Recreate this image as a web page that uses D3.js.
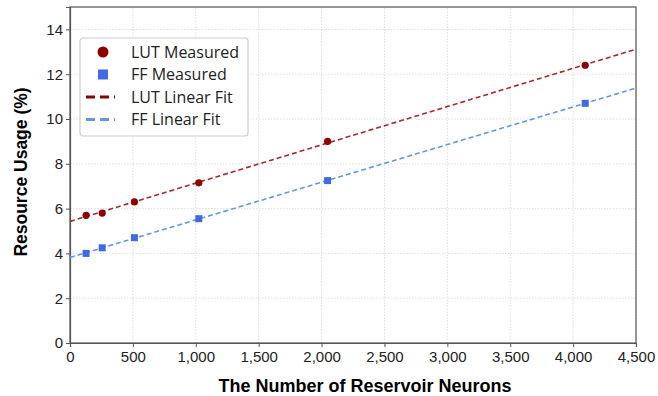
<!DOCTYPE html>
<html>
<head>
<meta charset="utf-8">
<script src="https://cdn.jsdelivr.net/npm/d3@7"></script>
<style>
body{margin:0;background:#fff;}
svg{display:block;}
.tick text{font-family:"Liberation Sans",Arial,sans-serif;font-size:15px;fill:#222;}
</style>
</head>
<body>
<script>
// reservoir sizes and measured usage (%)
var neurons = [128, 256, 512, 1024, 2048, 4096];
var lutUsage = [5.7, 5.8, 6.3, 7.15, 9.0, 12.4];
var ffUsage = [4.0, 4.25, 4.7, 5.55, 7.25, 10.7];
var xTicks = [0, 500, 1000, 1500, 2000, 2500, 3000, 3500, 4000, 4500];
var yTicks = [0, 2, 4, 6, 8, 10, 12, 14];
var legendLabels = ["LUT Measured", "FF Measured", "LUT Linear Fit", "FF Linear Fit"];

var W = 658, H = 396;
var m = {l:70, r:22, t:7, b:53};
var lutCol = "#8b0000", lutLine = "#a52a2a", ffCol = "#4169e1", ffLine = "#6495ed";

function fit(xs, ys){
	var mx = d3.mean(xs), my = d3.mean(ys);
	var sxy = d3.sum(xs, (x,i)=>(x-mx)*(ys[i]-my));
	var sxx = d3.sum(xs, x=>(x-mx)*(x-mx));
	var b = sxy/sxx;
	return {a: my - b*mx, b: b};
}

var svg = d3.select("body").append("svg").attr("width", W).attr("height", H);
var x = d3.scaleLinear().domain([0,4500]).range([m.l, W-m.r]);
var y = d3.scaleLinear().domain([0,15]).range([H-m.b, m.t]);

// grid
svg.append("g").selectAll("line").data(xTicks.slice(1)).join("line")
	.attr("x1",d=>x(d)).attr("x2",d=>x(d)).attr("y1",y(0)).attr("y2",y(15))
	.attr("stroke","#ddd").attr("stroke-dasharray","1.5,1.5");
svg.append("g").selectAll("line").data(yTicks.slice(1)).join("line")
	.attr("x1",x(0)).attr("x2",x(4500)).attr("y1",d=>y(d)).attr("y2",d=>y(d))
	.attr("stroke","#ddd").attr("stroke-dasharray","1.5,1.5");

// frame
svg.append("rect").attr("x",x(0)).attr("y",y(15)).attr("width",x(4500)-x(0)).attr("height",y(0)-y(15))
	.attr("fill","none").attr("stroke","#555").attr("stroke-width",1.2);

var xa = svg.append("g").attr("transform","translate(0,"+y(0)+")")
	.call(d3.axisBottom(x).tickValues(xTicks).tickFormat(d3.format(",")).tickSize(4).tickPadding(4));
var ya = svg.append("g").attr("transform","translate("+x(0)+",0)")
	.call(d3.axisLeft(y).tickValues(yTicks).tickSize(4).tickPadding(3));
[xa,ya].forEach(function(a){
	a.select(".domain").attr("stroke","#555").attr("stroke-width",1.2);
	a.selectAll(".tick line").attr("stroke","#555");
});

// fit lines
var series = [
	{vals:lutUsage, col:lutCol, line:lutLine, shape:"circle"},
	{vals:ffUsage, col:ffCol, line:ffLine, shape:"square"}
];
series.forEach(function(s){
	var f = fit(neurons, s.vals);
	svg.append("line")
		.attr("x1",x(0)).attr("y1",y(f.a)).attr("x2",x(4500)).attr("y2",y(f.a+f.b*4500))
		.attr("stroke",s.line).attr("stroke-width",1.6).attr("stroke-dasharray","5,3");
});
series.forEach(function(s){
	var g = svg.append("g");
	if(s.shape=="circle"){
		g.selectAll("circle").data(neurons).join("circle")
			.attr("cx",d=>x(d)).attr("cy",(d,i)=>y(s.vals[i])).attr("r",3.6).attr("fill",s.col);
	} else {
		g.selectAll("rect").data(neurons).join("rect")
			.attr("x",d=>x(d)-3.5).attr("y",(d,i)=>y(s.vals[i])-3.5).attr("width",7).attr("height",7).attr("fill",s.col);
	}
});

// axis titles
svg.append("text").attr("x",365).attr("y",392).attr("text-anchor","middle")
	.style("font-family","'Liberation Sans',Arial,sans-serif").style("font-size","18px").style("font-weight","bold")
	.text("The Number of Reservoir Neurons");
svg.append("text").attr("transform","translate(27,172) rotate(-90)").attr("text-anchor","middle")
	.style("font-family","'Liberation Sans',Arial,sans-serif").style("font-size","17.5px").style("font-weight","bold")
	.text("Resource Usage (%)");

// legend
var lg = svg.append("g").attr("transform","translate(80,38)");
lg.append("rect").attr("width",168).attr("height",98).attr("rx",3)
	.attr("fill","#fff").attr("stroke","#ccc").attr("stroke-width",1.2);
var rows = lg.selectAll("g").data(legendLabels).join("g")
	.attr("transform",(d,i)=>"translate(0,"+(14+i*22.5)+")");
rows.append("text").attr("x",51).attr("y",5.8).text(d=>d)
	.style("font-family","'Open Sans',sans-serif").style("font-size","16px").attr("fill","#222");
rows.each(function(d,i){
	var r = d3.select(this);
	if(i==0) r.append("circle").attr("cx",23).attr("cy",0).attr("r",5.5).attr("fill",lutCol);
	if(i==1) r.append("rect").attr("x",18).attr("y",-5).attr("width",10).attr("height",10).attr("fill",ffCol);
	if(i>=2) r.append("line").attr("x1",6).attr("x2",35).attr("y1",0).attr("y2",0)
		.attr("stroke",i==2?lutCol:ffLine).attr("stroke-width",2.8).attr("stroke-dasharray","9,5");
});
</script>
</body>
</html>
